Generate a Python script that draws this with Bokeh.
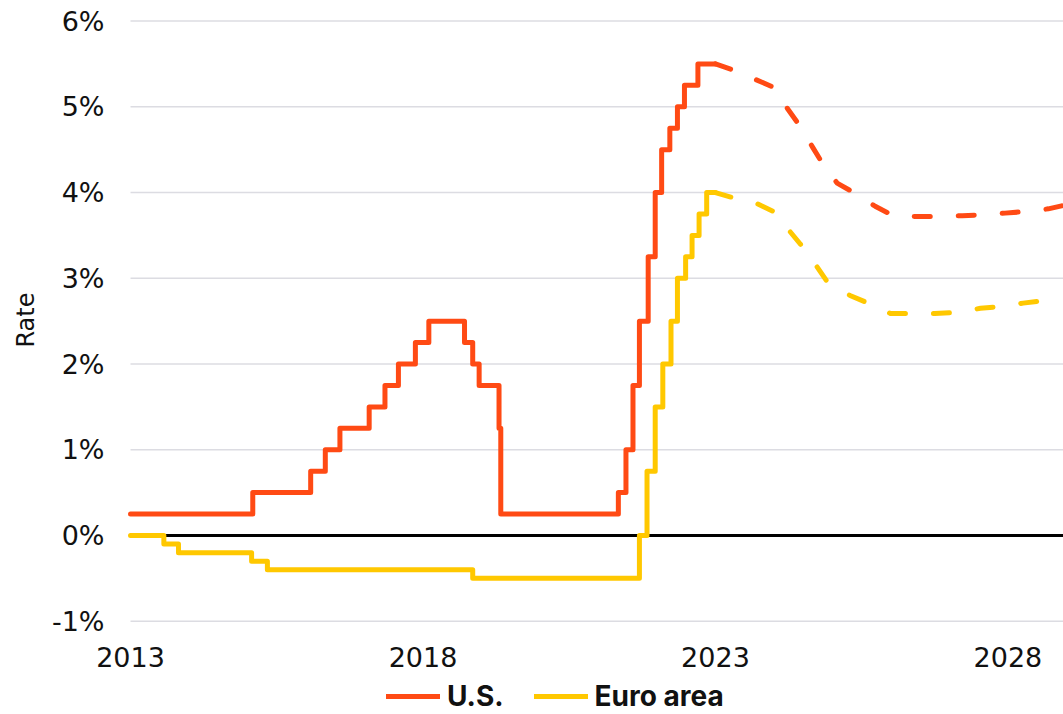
from bokeh.plotting import figure
from bokeh.models import Range1d, FixedTicker, Legend, LegendItem, Title
from bokeh.embed import file_html
from bokeh.resources import INLINE

# ---- data (decimal years, policy rate in %) ----
us_dates = [2013.87, 2015.96, 2016.95, 2017.20, 2017.45, 2017.95, 2018.22, 2018.45,
            2018.74, 2018.97, 2019.58, 2019.72, 2019.83, 2020.17, 2020.20, 2022.21,
            2022.34, 2022.46, 2022.57, 2022.72, 2022.84, 2022.95, 2023.09, 2023.22,
            2023.34, 2023.57, 2023.87]
us_rates = [0.25, 0.50, 0.75, 1.00, 1.25, 1.50, 1.75, 2.00,
            2.25, 2.50, 2.25, 2.00, 1.75, 1.25, 0.25, 0.50,
            1.00, 1.75, 2.50, 3.25, 4.00, 4.50, 4.75, 5.00,
            5.25, 5.50, 5.50]

ea_dates = [2013.87, 2014.44, 2014.69, 2015.94, 2016.21, 2019.72, 2022.57, 2022.70,
            2022.84, 2022.97, 2023.11, 2023.22, 2023.36, 2023.47, 2023.59, 2023.72,
            2023.87]
ea_rates = [0.00, -0.10, -0.20, -0.30, -0.40, -0.50, 0.00, 0.75,
            1.50, 2.00, 2.50, 3.00, 3.25, 3.50, 3.75, 4.00,
            4.00]

us_fc_dates = [2023.87, 2024.17, 2024.55, 2024.89, 2025.10, 2025.32, 2025.53, 2025.70,
               2025.95, 2026.26, 2026.60, 2026.91, 2027.32, 2027.68, 2028.09, 2028.43,
               2028.82, 2029.20, 2029.56, 2029.82]
us_fc_rates = [5.50, 5.43, 5.32, 5.22, 4.98, 4.77, 4.53, 4.34,
               4.11, 3.99, 3.84, 3.73, 3.72, 3.72, 3.73, 3.74,
               3.76, 3.78, 3.81, 3.85]

ea_fc_dates = [2023.87, 2024.17, 2024.58, 2024.89, 2025.15, 2025.32, 2025.61, 2025.80,
               2026.17, 2026.48, 2026.86, 2027.23, 2027.62, 2027.97, 2028.40, 2028.74,
               2029.13, 2029.50, 2029.82]
ea_fc_rates = [4.00, 3.94, 3.87, 3.77, 3.54, 3.40, 3.13, 2.94,
               2.80, 2.71, 2.59, 2.59, 2.59, 2.60, 2.65, 2.67,
               2.71, 2.74, 2.78]

x_tick_positions = [2013.87, 2018.87, 2023.87, 2028.87]
x_tick_labels = ["2013", "2018", "2023", "2028"]
y_ticks = [-1, 0, 1, 2, 3, 4, 5, 6]
y_tick_labels = ["-1%", "0%", "1%", "2%", "3%", "4%", "5%", "6%"]

US_COLOR = "#ff4a14"
EA_COLOR = "#ffc800"
GRID_COLOR = "#dcdce2"
TICK_FONT = "DejaVu Sans"
LEGEND_FONT = "Inter"

x_first = us_dates[0]
x_last = us_fc_dates[-1]

# frame reaches down to the legend row and a little left of the first date,
# so the pinned x axis labels are not clipped
p = figure(frame_width=972, frame_height=702,
           x_range=Range1d(2013.203, x_last), y_range=Range1d(-2.088, 6.10),
           output_backend="svg", toolbar_location=None,
           min_border_top=12, min_border_right=0, min_border_left=0, min_border_bottom=0)
p.outline_line_color = None
p.background_fill_color = "white"

# axes
p.xaxis.ticker = FixedTicker(ticks=x_tick_positions)
p.xaxis.major_label_overrides = dict(zip(x_tick_positions, x_tick_labels))
p.xaxis.fixed_location = -1.242
p.yaxis.ticker = FixedTicker(ticks=y_ticks)
p.yaxis.major_label_overrides = dict(zip(y_ticks, y_tick_labels))
for ax in (p.xaxis, p.yaxis):
    ax.axis_line_color = None
    ax.major_tick_line_color = None
    ax.minor_tick_line_color = None
    ax.major_tick_out = 0
    ax.major_tick_in = 0
    ax.minor_tick_out = 0
    ax.minor_tick_in = 0
    ax.major_label_text_font = TICK_FONT
    ax.major_label_text_font_size = "27px"
    ax.major_label_text_color = "#111111"
p.xaxis.major_label_standoff = 5
p.yaxis.major_label_standoff = -13

rate_title = Title(text="Rate", align="right", offset=280, standoff=18,
                   text_font=TICK_FONT, text_font_size="24px",
                   text_font_style="normal", text_color="#111111")
p.add_layout(rate_title, "left")

# horizontal gridlines starting at the first date
p.xgrid.grid_line_color = None
p.ygrid.grid_line_color = None
n = len(y_ticks)
p.segment(x0=[x_first] * n, x1=[x_last] * n, y0=y_ticks, y1=y_ticks,
          line_color=GRID_COLOR, line_width=1.5)
# zero line
p.segment(x0=[x_first], x1=[x_last], y0=[0], y1=[0], line_color="black", line_width=3)

us_line = p.step(us_dates, us_rates, mode="after", line_color=US_COLOR, line_width=5,
                 line_join="round", line_cap="round")
ea_line = p.step(ea_dates, ea_rates, mode="after", line_color=EA_COLOR, line_width=5,
                 line_join="round", line_cap="round")
p.line(us_fc_dates, us_fc_rates, line_color=US_COLOR, line_width=5, line_dash="16 28",
       line_cap="round", line_join="round")
p.line(ea_fc_dates, ea_fc_rates, line_color=EA_COLOR, line_width=5, line_dash="16 28",
       line_cap="round", line_join="round")

legend = Legend(items=[LegendItem(label="U.S.", renderers=[us_line]),
                       LegendItem(label="Euro area", renderers=[ea_line])],
                orientation="horizontal", location=(295, 1),
                label_text_font=LEGEND_FONT, label_text_font_style="bold",
                label_text_font_size="28px", label_text_color="#111111",
                glyph_width=54, glyph_height=20, label_standoff=7, spacing=30,
                padding=0, margin=0, border_line_color=None, background_fill_alpha=0)
p.add_layout(legend, "center")

open("out.html", "w").write(file_html(p, INLINE))
